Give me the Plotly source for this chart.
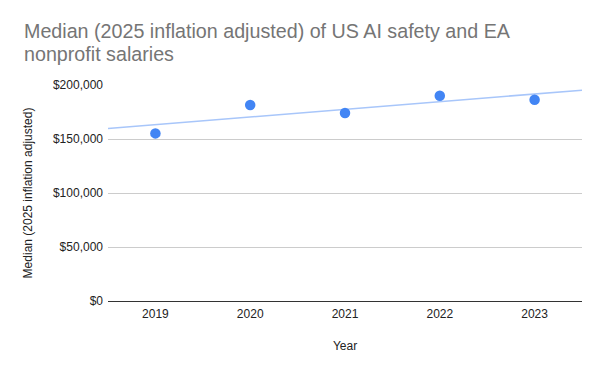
import numpy as np
import plotly.graph_objects as go

years = [2019, 2020, 2021, 2022, 2023]
median_salary = [155200, 181500, 174000, 190100, 186400]
y_ticks = [0, 50000, 100000, 150000, 200000]
y_tick_labels = ["$0", "$50,000", "$100,000", "$150,000", "$200,000"]
title_line1 = "Median (2025 inflation adjusted) of US AI safety and EA"
title_line2 = "nonprofit salaries"

slope, intercept = np.polyfit(years, median_salary, 1)
x_range = [min(years) - 0.5, max(years) + 0.5]
trend_x = x_range
trend_y = [slope * x + intercept for x in trend_x]

W, H = 600, 371
ML, MR, MT, MB = 108, 18, 85, 70
plot_h = H - MT - MB
plot_w = W - ML - MR

fig = go.Figure()
fig.add_trace(go.Scatter(
    x=trend_x, y=trend_y, mode="lines",
    line=dict(color="#A8C6FA", width=1.6),
    hoverinfo="skip", showlegend=False,
))
fig.add_trace(go.Scatter(
    x=years, y=median_salary, mode="markers",
    marker=dict(color="#4285F4", size=10.5),
    showlegend=False,
))

title_font = dict(family="Liberation Sans, Arial, sans-serif", size=19.7, color="#757575")
fig.add_annotation(
    text=title_line1, xref="paper", yref="paper",
    x=(23 - ML) / plot_w, y=1 + (MT - 43) / plot_h,
    xanchor="left", yanchor="bottom", showarrow=False,
    font=title_font, borderpad=0,
)
fig.add_annotation(
    text=title_line2, xref="paper", yref="paper",
    x=(23 - ML) / plot_w, y=1 + (MT - 65.5) / plot_h,
    xanchor="left", yanchor="bottom", showarrow=False,
    font=title_font, borderpad=0,
)

fig.update_layout(
    width=W, height=H,
    margin=dict(l=ML, r=MR, t=MT, b=MB),
    paper_bgcolor="white", plot_bgcolor="white",
    font=dict(family="Liberation Sans, Arial, sans-serif", color="#222222"),
    xaxis=dict(
        range=x_range, tickmode="array", tickvals=years,
        ticktext=[str(y) for y in years],
        showgrid=False, zeroline=False,
        showline=True, linecolor="#333333", linewidth=1,
        ticks="", ticklabelstandoff=2,
        tickfont=dict(size=12, color="#222222"),
        title=dict(text="Year", font=dict(size=12, color="#222222"), standoff=21),
        automargin=False,
    ),
    yaxis=dict(
        range=[0, 200000], tickmode="array", tickvals=y_ticks,
        ticktext=y_tick_labels,
        showgrid=True, gridcolor="#CCCCCC", gridwidth=1,
        zeroline=False, showline=False, ticks="",
        ticklabelstandoff=4,
        tickfont=dict(size=12, color="#222222"),
        title=dict(text="Median (2025 inflation adjusted)", font=dict(size=12, color="#222222"), standoff=17),
        automargin=False,
    ),
)

fig.write_html("out.html", config={"displayModeBar": False},
               post_script="document.body.style.margin='0';")
